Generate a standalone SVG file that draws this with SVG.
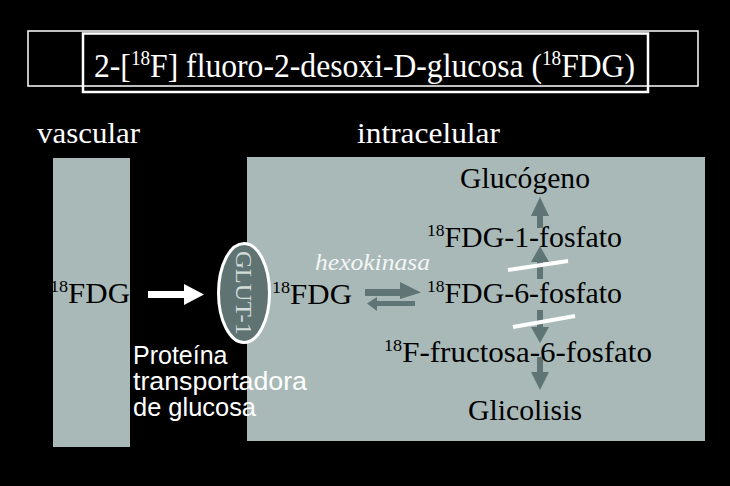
<svg xmlns="http://www.w3.org/2000/svg" width="730" height="486" viewBox="0 0 730 486">
<style>
.serif{font-family:"Liberation Serif","Times New Roman",serif}
.sans{font-family:"Liberation Sans",Arial,sans-serif}
.dark{fill:#000}
.white{fill:#fff}
.cell{fill:#a9b9b8}
.arr{fill:#5f7575}
</style>
<rect width="730" height="486" fill="#000"/>
<g id="title">
<rect x="28" y="31" width="670" height="55" fill="none" stroke="#fff" stroke-width="1.5"/>
<rect x="83" y="33.5" width="565" height="58.5" fill="none" stroke="#fff" stroke-width="2.5"/>
<text class="serif white" x="94" y="77" font-size="33" textLength="541" lengthAdjust="spacingAndGlyphs">2-[<tspan font-size="20" dy="-12">18</tspan><tspan dy="12">F] fluoro-2-desoxi-D-glucosa (</tspan><tspan font-size="20" dy="-12">18</tspan><tspan dy="12">FDG)</tspan></text>
</g>
<g id="vascular">
<text class="serif white" x="37" y="143" font-size="30" textLength="103" lengthAdjust="spacingAndGlyphs">vascular</text>
<rect class="cell" x="53" y="158" width="77" height="289"/>
<text class="serif dark" x="50" y="303" font-size="29" textLength="80" lengthAdjust="spacingAndGlyphs"><tspan font-size="17" dy="-11">18</tspan><tspan dy="11">FDG</tspan></text>
</g>
<g id="intracelular">
<text class="serif white" x="357" y="143" font-size="30" textLength="143" lengthAdjust="spacingAndGlyphs">intracelular</text>
<rect class="cell" x="247" y="157" width="458" height="284"/>
</g>
<g id="connectors">
<path fill="#fff" d="M148 291 H184 V284 L204 294.5 L184 305 V298 H148 Z"/>
<path class="arr" d="M365 289 H400 V282 L421 292.5 L400 299 V296 H365 Z"/>
<path class="arr" d="M415 301 H377 V297 L367 303.5 L377 311 V306 H415 Z"/>
<path class="arr" d="M537 228 V216 H531 L540 197 L549 216 H543 V228 Z"/>
<path class="arr" d="M537 279 V262 H531 L540 246 L549 262 H543 V279 Z"/>
<path class="arr" d="M537 310 V327 H531 L540 343 L549 327 H543 V310 Z"/>
<path class="arr" d="M537 357 V372 H531 L540 390 L549 372 H543 V357 Z"/>
</g>
<g id="glut1">
<ellipse cx="244" cy="293" rx="25.5" ry="49.5" fill="#5f7373" stroke="#fff" stroke-width="3"/>
<text class="serif" fill="#d3dbdb" font-size="23" text-anchor="middle" transform="translate(236 293) rotate(90)" textLength="84" lengthAdjust="spacingAndGlyphs">GLUT-1</text>
</g>
<g id="proteina">
<text class="sans white" font-size="25"><tspan x="133" y="364">Proteína</tspan><tspan x="133" y="390" textLength="174" lengthAdjust="spacingAndGlyphs">transportadora</tspan><tspan x="133" y="416" textLength="123" lengthAdjust="spacingAndGlyphs">de glucosa</tspan></text>
</g>
<g id="fdg-cell">
<text class="serif dark" x="272" y="304" font-size="29" textLength="80" lengthAdjust="spacingAndGlyphs"><tspan font-size="17" dy="-11">18</tspan><tspan dy="11">FDG</tspan></text>
</g>
<g id="hexokinasa">
<text class="serif white" font-style="italic" x="315" y="270" font-size="24" textLength="115" lengthAdjust="spacingAndGlyphs" fill-opacity="0.9">hexokinasa</text>
</g>
<g id="glucogeno">
<text class="serif dark" x="460" y="188" font-size="29" textLength="130" lengthAdjust="spacingAndGlyphs">Glucógeno</text>
</g>
<g id="fdg1p">
<text class="serif dark" x="427" y="247" font-size="29" textLength="195" lengthAdjust="spacingAndGlyphs"><tspan font-size="17" dy="-11">18</tspan><tspan dy="11">FDG-1-fosfato</tspan></text>
</g>
<g id="fdg6p">
<text class="serif dark" x="427" y="303" font-size="29" textLength="195" lengthAdjust="spacingAndGlyphs"><tspan font-size="17" dy="-11">18</tspan><tspan dy="11">FDG-6-fosfato</tspan></text>
</g>
<g id="fructosa">
<text class="serif dark" x="384" y="362" font-size="29" textLength="268" lengthAdjust="spacingAndGlyphs"><tspan font-size="17" dy="-11">18</tspan><tspan dy="11">F-fructosa-6-fosfato</tspan></text>
</g>
<g id="glicolisis">
<text class="serif dark" x="468" y="420" font-size="29" textLength="114" lengthAdjust="spacingAndGlyphs">Glicolisis</text>
</g>
<g id="blocks" stroke="#fff" stroke-width="4">
<line x1="508" y1="270" x2="568" y2="261"/>
<line x1="513" y1="327" x2="575" y2="316"/>
</g>
</svg>
